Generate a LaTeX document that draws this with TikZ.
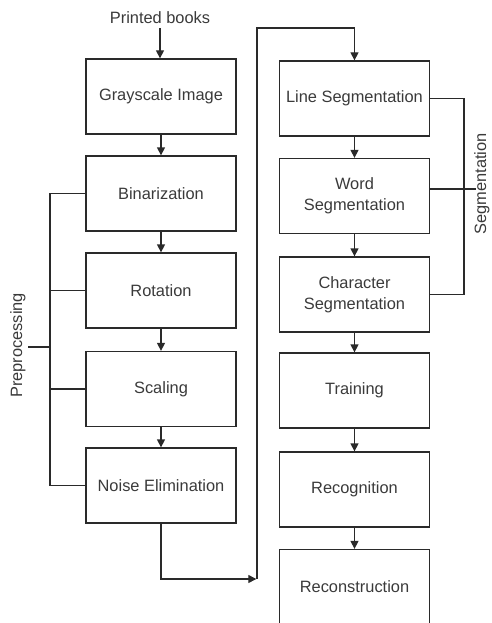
\documentclass[tikz,border=0pt]{standalone}
\usepackage{fontspec}
\setmainfont{Liberation Sans}
\usetikzlibrary{arrows.meta,calc}
\definecolor{ln}{HTML}{2A2A2A}
\definecolor{tx}{HTML}{3A3A3A}
\begin{document}
\begin{tikzpicture}[x=1pt,y=-1pt,
  stepbox/.style={draw=ln,line width=1.3pt,minimum width=150pt,minimum height=75pt,
    inner sep=0pt,align=center,text=tx,font=\fontsize{16.4}{21}\selectfont},
  lbl/.style={text=tx,inner sep=0pt,font=\fontsize{16.4}{21}\selectfont},
  conn/.style={draw=ln,line width=1.3pt},
  arr/.style={conn,-{Triangle[length=8pt,width=8pt]}}]
\useasboundingbox (0,0) rectangle (491,623);
% left column
\node[stepbox] (gray) at (161,96.5) {Grayscale Image};
\node[stepbox] (bin) at (161,193.5) {Binarization};
\node[stepbox] (rot) at (161,290.5) {Rotation};
\node[stepbox] (scal) at (161,389) {Scaling};
\node[stepbox] (noise) at (161,485.5) {Noise Elimination};
% right column
\node[stepbox] (line) at (354.5,98.5) {Line Segmentation};
\node[stepbox] (word) at (354.5,196) {Word\\Segmentation};
\node[stepbox] (char) at (354.5,294.5) {Character\\Segmentation};
\node[stepbox] (train) at (354.5,390.5) {Training};
\node[stepbox] (recog) at (354.5,489.5) {Recognition};
\node[stepbox] (recon) at (354.5,587) {Reconstruction};
% labels
\node[lbl] (books) at (160,18) {Printed books};
\node[lbl,rotate=90] (prep) at (18,345.5) {Preprocessing};
\node[lbl,rotate=90] (seg) at (482,184) {Segmentation};
% coordinates
\coordinate (bk) at (160,28);
\coordinate (c1) at (161,579);
\coordinate (c2) at (257,579);
\coordinate (c3) at (257,28);
\coordinate (c4) at (354.5,28);
\coordinate (pl) at (50,0);
\coordinate (pt) at (28,347);
\coordinate (sr) at (464,0);
\coordinate (st) at (476,189);
% main arrows
\draw[arr] (bk) -- (gray.north -| bk);
\draw[arr] (gray) -- (bin);
\draw[arr] (bin) -- (rot);
\draw[arr] (rot) -- (scal);
\draw[arr] (scal) -- (noise);
\draw[arr] (noise.south) -- (c1) -- ($(c2)+(-0.7,0)$);
\draw[arr] (c2) -- (c3) -- (c4) -- (line.north);
\draw[arr] (line) -- (word);
\draw[arr] (word) -- (char);
\draw[arr] (char) -- (train);
\draw[arr] (train) -- (recog);
\draw[arr] (recog) -- (recon);
% preprocessing bracket
\draw[conn] (bin.west) -- (bin.west -| pl) -- (noise.west -| pl) -- (noise.west);
\draw[conn] (rot.west) -- (rot.west -| pl);
\draw[conn] (scal.west) -- (scal.west -| pl);
\draw[conn] (pt) -- (pt -| pl);
% segmentation bracket
\draw[conn] (line.east) -- (line.east -| sr) -- (char.east -| sr) -- (char.east);
\draw[conn] (word.east |- st) -- (st);
\end{tikzpicture}
\end{document}
